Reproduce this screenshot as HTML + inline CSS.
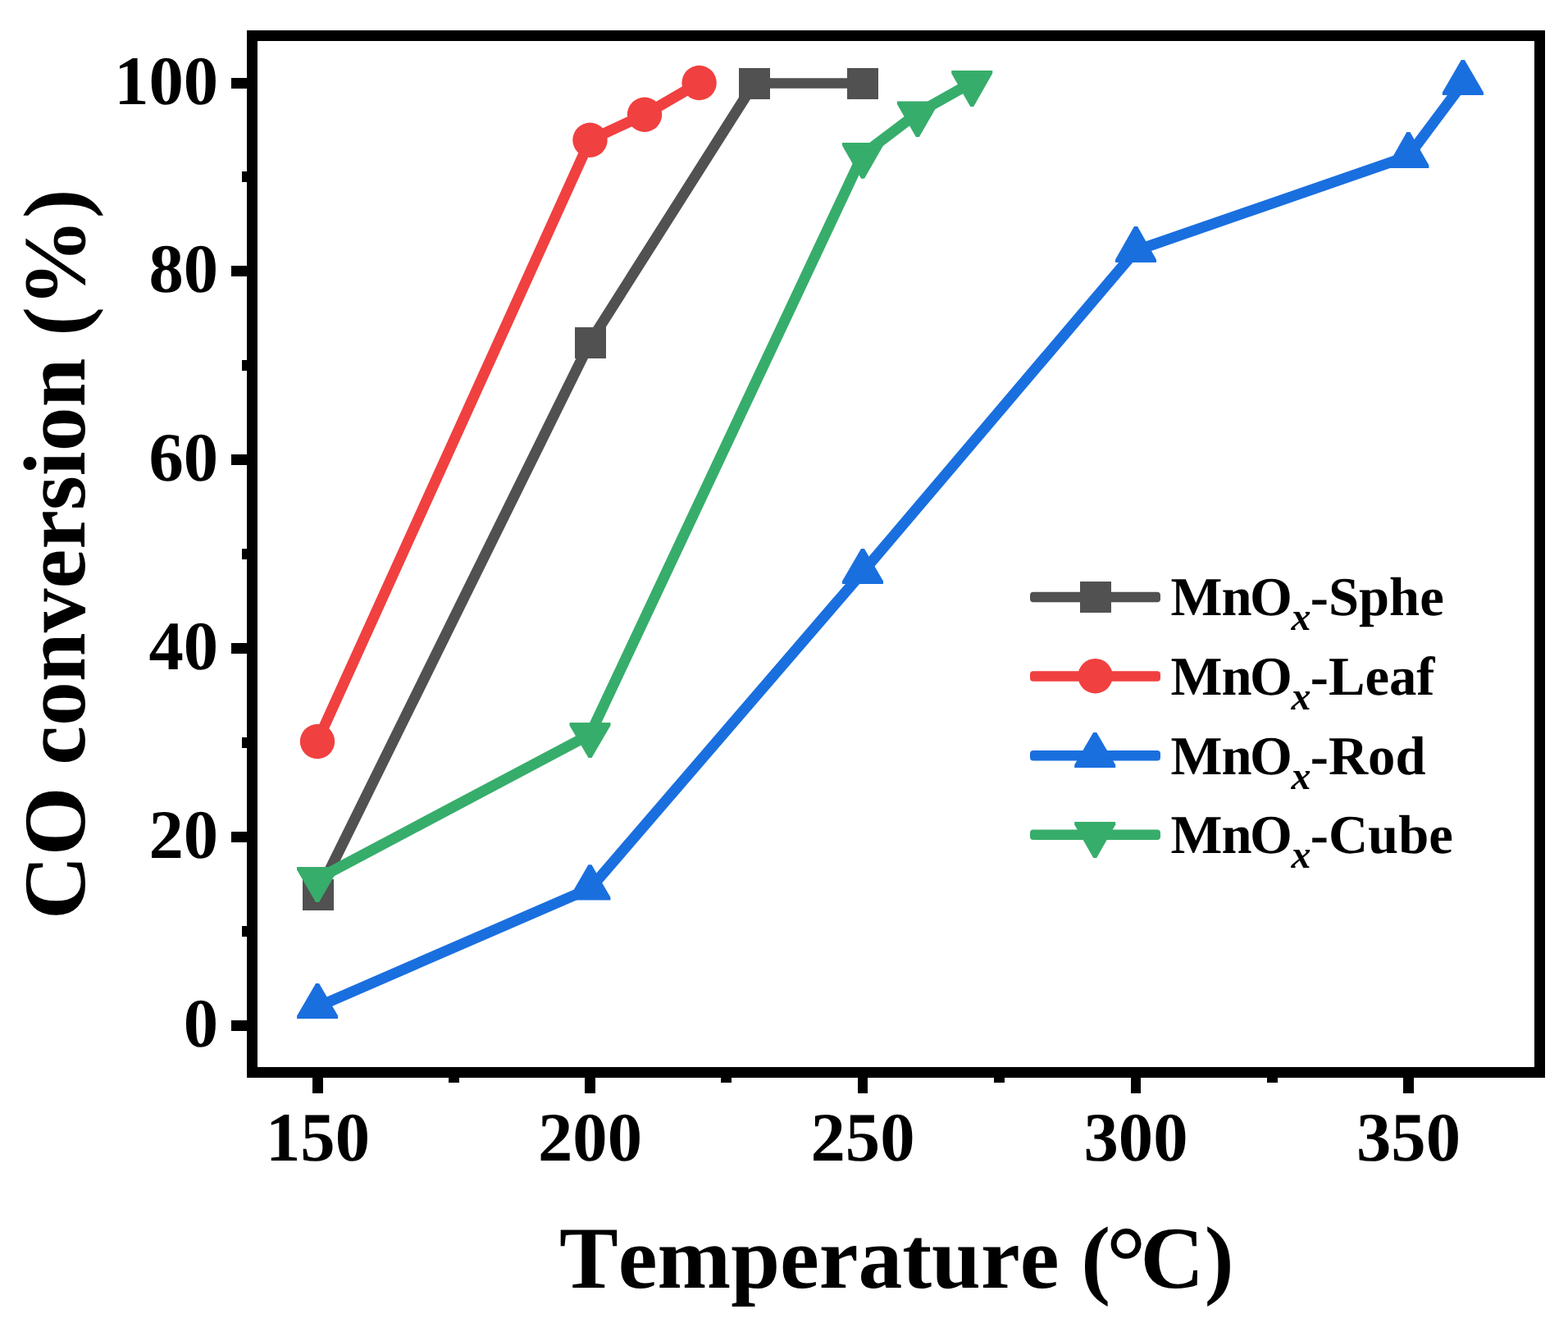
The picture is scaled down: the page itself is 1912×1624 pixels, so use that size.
<!DOCTYPE html>
<html lang="en">
<head>
<meta charset="utf-8">
<title>CO conversion vs Temperature</title>
<style>
html,body{margin:0;padding:0;background:#fff;}
body{width:1912px;height:1624px;overflow:hidden;}
svg{display:block;}
text{font-family:"Liberation Serif","Times New Roman",Times,serif;font-weight:bold;fill:#000;font-kerning:none;font-variant-ligatures:none;text-rendering:geometricPrecision;}
.tick{font-size:84.7px;}
.title{font-size:107.6px;}
.leg{font-size:66.67px;}
.sub{font-size:48px;font-style:italic;}
</style>
</head>
<body>
<svg width="1912" height="1624" viewBox="0 0 1912 1624">
<rect x="0" y="0" width="1912" height="1624" fill="#ffffff"/>
<g id="plots">
<g id="series-gray">
<polyline points="387.4,1090.3 719.4,417.3 919.6,101.4" fill="none" stroke="#515151" stroke-width="13.1" stroke-linejoin="round" stroke-linecap="butt"/>
<polyline points="919.6,101.4 1052,101.4" fill="none" stroke="#515151" stroke-width="12.5"/>
<rect x="369" y="1072" width="38" height="38" fill="#515151"/>
<rect x="701" y="399" width="38" height="38" fill="#515151"/>
<rect x="901" y="83" width="38" height="38" fill="#515151"/>
<rect x="1033" y="83" width="38" height="38" fill="#515151"/>
</g>
<g id="series-red">
<polyline points="387,904 719.5,170.75 786,139.75 852.6,101" fill="none" stroke="#F14040" stroke-width="13.1" stroke-linejoin="round" stroke-linecap="butt"/>
<circle cx="387" cy="904" r="21.2" fill="#F14040"/>
<circle cx="719.5" cy="170.75" r="21.2" fill="#F14040"/>
<circle cx="786" cy="139.75" r="21.2" fill="#F14040"/>
<circle cx="852.6" cy="101" r="21.2" fill="#F14040"/>
</g>
<g id="series-blue">
<polyline points="387.1,1227.4 720,1083 1052,697.4 1385,305.5 1717.4,190.4 1783.9,101.4" fill="none" stroke="#1A6FDF" stroke-width="13.1" stroke-linejoin="round" stroke-linecap="butt"/>
<polygon points="385.1,1199 389.1,1199 412.1,1238.4 412.1,1241.9 362.1,1241.9 362.1,1238.4" fill="#1A6FDF"/>
<polygon points="717.4,1054.25 721.4,1054.25 744.4,1094 744.4,1097.5 694.4,1097.5 694.4,1094" fill="#1A6FDF"/>
<polygon points="1050,668.9 1054,668.9 1077,708.4 1077,711.9 1027,711.9 1027,708.4" fill="#1A6FDF"/>
<polygon points="1383,275.9 1387,275.9 1410,316.5 1410,320 1360,320 1360,316.5" fill="#1A6FDF"/>
<polygon points="1715.4,160.9 1719.4,160.9 1742.4,201.4 1742.4,204.9 1692.4,204.9 1692.4,201.4" fill="#1A6FDF"/>
<polygon points="1781.9,72.9 1785.9,72.9 1808.9,112.4 1808.9,115.9 1758.9,115.9 1758.9,112.4" fill="#1A6FDF"/>
</g>
<g id="series-green">
<polyline points="387,1071.6 719.5,895.5 1052,188.5 1118.9,137.9 1185.2,100.6" fill="none" stroke="#37AD6B" stroke-width="13.1" stroke-linejoin="round" stroke-linecap="butt"/>
<polygon points="385,1100 389,1100 412,1060.6 412,1057.1 362,1057.1 362,1060.6" fill="#37AD6B"/>
<polygon points="717.5,924 721.5,924 744.5,884.5 744.5,881 694.5,881 694.5,884.5" fill="#37AD6B"/>
<polygon points="1050,217.75 1054,217.75 1077,177.5 1077,174 1027,174 1027,177.5" fill="#37AD6B"/>
<polygon points="1116.9,167 1120.9,167 1143.9,126.9 1143.9,123.4 1093.9,123.4 1093.9,126.9" fill="#37AD6B"/>
<polygon points="1183.2,130 1187.2,130 1210.2,89.6 1210.2,86.1 1160.2,86.1 1160.2,89.6" fill="#37AD6B"/>
</g>
</g>
<g id="axes" fill="#000" shape-rendering="crispEdges">
<rect x="301" y="37" width="1583" height="13"/>
<rect x="301" y="1301" width="1583" height="13"/>
<rect x="301" y="37" width="13" height="1277"/>
<rect x="1871" y="37" width="13" height="1277"/>
<rect x="282" y="1244" width="20" height="13"/>
<rect x="295" y="1129" width="7" height="13"/>
<rect x="282" y="1014" width="20" height="13"/>
<rect x="295" y="899" width="7" height="13"/>
<rect x="282" y="784" width="20" height="13"/>
<rect x="295" y="669" width="7" height="13"/>
<rect x="282" y="554" width="20" height="13"/>
<rect x="295" y="439" width="7" height="13"/>
<rect x="282" y="324" width="20" height="13"/>
<rect x="295" y="209" width="7" height="13"/>
<rect x="282" y="95" width="20" height="13"/>
<rect x="381" y="1313" width="13" height="20"/>
<rect x="547" y="1313" width="13" height="7"/>
<rect x="713" y="1313" width="13" height="20"/>
<rect x="879" y="1313" width="13" height="7"/>
<rect x="1046" y="1313" width="12" height="20"/>
<rect x="1212" y="1313" width="13" height="7"/>
<rect x="1379" y="1313" width="12" height="20"/>
<rect x="1545" y="1313" width="13" height="7"/>
<rect x="1711" y="1313" width="13" height="20"/>
</g>
<g id="ylabels" class="tick" text-anchor="end">
<text x="266.2" y="1276.1">0</text>
<text x="266.2" y="1046.1">20</text>
<text x="266.2" y="816.1">40</text>
<text x="266.2" y="586.1">60</text>
<text x="266.2" y="356.1">80</text>
<text x="266.2" y="127.1">100</text>
</g>
<g id="xlabels" class="tick" text-anchor="middle">
<text x="387.5" y="1414.5">150</text>
<text x="719.5" y="1414.5">200</text>
<text x="1052" y="1414.5">250</text>
<text x="1385" y="1414.5">300</text>
<text x="1717.5" y="1414.5">350</text>
</g>
<text id="xtitle" class="title" x="682" y="1570">Temperature (<tspan font-size="122" dx="-5.5" dy="8.5">°</tspan><tspan dx="-7" dy="-8.5">C</tspan><tspan dx="0.5">)</tspan></text>
<text id="ytitle" class="title" transform="translate(102.75 1121) rotate(-90)" x="0" y="0">CO conversion (%)</text>
<g id="legend">
<rect x="1256" y="721.65" width="159" height="12.5" rx="4" ry="4" fill="#515151"/>
<rect x="1317" y="709" width="38" height="38" fill="#515151"/>
<text class="leg" y="750"><tspan x="1427.4 1489.4 1523.9">MnO</tspan><tspan class="sub" x="1574.4" dy="18.3">x</tspan><tspan x="1597.75" dy="-18.3">-Sphe</tspan></text>
<rect x="1256" y="818.35" width="159" height="12.5" rx="4" ry="4" fill="#F14040"/>
<circle cx="1335.6" cy="824.2" r="21.2" fill="#F14040"/>
<text class="leg" y="847"><tspan x="1427.4 1489.4 1523.9">MnO</tspan><tspan class="sub" x="1574.4" dy="18.3">x</tspan><tspan x="1597.75" dy="-18.3">-Leaf</tspan></text>
<rect x="1256" y="915" width="159" height="12.5" rx="4" ry="4" fill="#1A6FDF"/>
<polygon points="1333.2,893 1337.2,893 1360.2,932.5 1360.2,936 1310.2,936 1310.2,932.5" fill="#1A6FDF"/>
<text class="leg" y="943.75"><tspan x="1427.4 1489.4 1523.9">MnO</tspan><tspan class="sub" x="1574.4" dy="18.3">x</tspan><tspan x="1597.75" dy="-18.3">-Rod</tspan></text>
<rect x="1256" y="1011.5" width="159" height="12.5" rx="4" ry="4" fill="#37AD6B"/>
<polygon points="1333.2,1046 1337.2,1046 1360.2,1005.5 1360.2,1002 1310.2,1002 1310.2,1005.5" fill="#37AD6B"/>
<text class="leg" y="1040"><tspan x="1427.4 1489.4 1523.9">MnO</tspan><tspan class="sub" x="1574.4" dy="18.3">x</tspan><tspan x="1597.75" dy="-18.3">-Cube</tspan></text>
</g>
</svg>
</body>
</html>
